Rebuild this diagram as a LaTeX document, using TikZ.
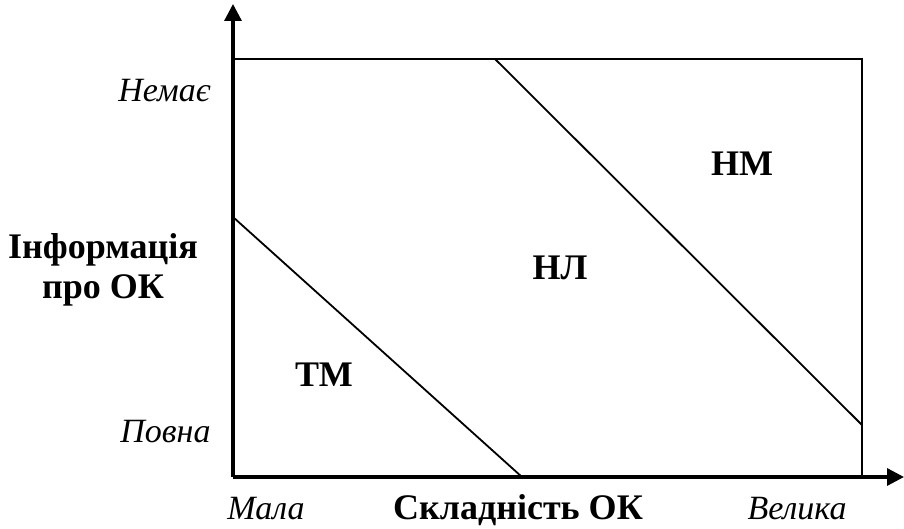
\documentclass[tikz,border=0pt]{standalone}
\usepackage{fontspec}
\setmainfont{Liberation Serif}
\usetikzlibrary{arrows.meta}
\begin{document}
\begin{tikzpicture}[x=0.5pt,y=-0.5pt,
  axis/.style={line width=1.6pt,-{Triangle[length=8.5pt,width=8.5pt]}},
  frame/.style={line width=1.2pt},
  diag/.style={line width=0.9pt},
  lbl/.style={font=\fontsize{17}{20}\selectfont\itshape,inner sep=0pt},
  ttl/.style={font=\fontsize{18}{21}\selectfont\bfseries,inner sep=0pt},
  zone/.style={font=\fontsize{18}{21}\selectfont\bfseries,inner sep=0pt,anchor=base}]
\useasboundingbox (0,0) rectangle (904,529);
\coordinate (O) at (233,477);
\coordinate (Ytip) at (233,4);
\coordinate (Xtip) at (904,477);
\coordinate (TL) at (233,59);
\coordinate (TR) at (862,59);
\coordinate (BR) at (862,477);
\coordinate (A1) at (495,59);
\coordinate (A2) at (862,425);
\coordinate (B1) at (233,217);
\coordinate (B2) at (522,477);
\draw[frame] (TL) -- (TR) -- (BR);
\draw[diag] (A1) -- (A2);
\draw[diag] (B1) -- (B2);
\draw[axis] (O) -- (Ytip);
\draw[axis] (O) -- (Xtip);
\node[lbl,anchor=base east] (nemae) at (211,102) {Немає};
\node[lbl,anchor=base east] (povna) at (211,442) {Повна};
\node[ttl,anchor=base] (info1) at (103,258) {Інформація};
\node[ttl,anchor=base] (info2) at (103,298) {про ОК};
\node[lbl,anchor=base] (mala) at (266,519) {Мала};
\node[ttl,anchor=base] (skl) at (518,519) {Складність ОК};
\node[lbl,anchor=base] (velyka) at (797,519) {Велика};
\node[zone] (nm) at (742,176) {НМ};
\node[zone] (nl) at (560,279) {НЛ};
\node[zone] (tm) at (324,386) {ТМ};
\end{tikzpicture}
\end{document}
